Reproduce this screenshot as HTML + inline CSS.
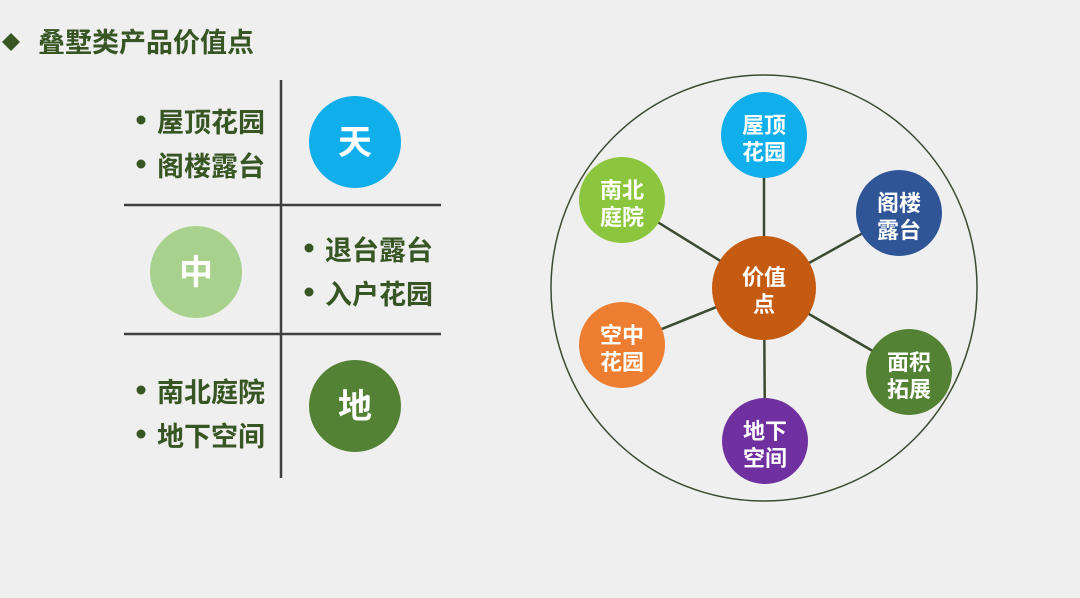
<!DOCTYPE html>
<html><head><meta charset="utf-8"><style>
body{margin:0;width:1080px;height:598px;background:#efefef;overflow:hidden;font-family:"Liberation Sans","Noto Sans CJK SC",sans-serif;}
svg{position:absolute;left:0;top:0}
</style></head><body>
<svg width="1080" height="598" viewBox="0 0 1080 598" font-family="Liberation Sans, Noto Sans CJK SC, sans-serif" font-weight="bold">
<polygon points="11,33 20,42 11,51 2,42" fill="#375623"/>
<text x="38" y="52" font-size="27" fill="#375623">叠墅类产品价值点</text>
<g stroke="#404040" stroke-width="2.5">
<line x1="281" y1="80" x2="281" y2="478"/>
<line x1="124" y1="205" x2="441" y2="205"/>
<line x1="124" y1="334" x2="441" y2="334"/>
</g>
<circle cx="355" cy="142" r="46" fill="#10aeea"/>
<circle cx="196" cy="272" r="46" fill="#a9d18e"/>
<circle cx="355" cy="406" r="46" fill="#548235"/>
<g fill="#fff" font-size="34" text-anchor="middle">
<text x="355" y="154">天</text><text x="196" y="284">中</text><text x="355" y="418">地</text>
</g>
<g fill="#375623" font-size="27">
<circle cx="141" cy="120" r="4.5"/><text x="157" y="132">屋顶花园</text>
<circle cx="141" cy="164" r="4.5"/><text x="157" y="176">阁楼露台</text>
<circle cx="309" cy="248" r="4.5"/><text x="325" y="260">退台露台</text>
<circle cx="309" cy="292" r="4.5"/><text x="325" y="304">入户花园</text>
<circle cx="141" cy="390" r="4.5"/><text x="157" y="402">南北庭院</text>
<circle cx="141" cy="434" r="4.5"/><text x="157" y="446">地下空间</text>
</g>
<circle cx="764" cy="288" r="213" fill="none" stroke="#3b4a30" stroke-width="1.5"/>
<g stroke="#3b4a30" stroke-width="2.5">
<line x1="764" y1="288" x2="764" y2="135"/>
<line x1="764" y1="288" x2="899" y2="213"/>
<line x1="764" y1="288" x2="622" y2="200"/>
<line x1="764" y1="288" x2="622" y2="345"/>
<line x1="764" y1="288" x2="765" y2="441"/>
<line x1="764" y1="288" x2="909" y2="372"/>
</g>
<circle cx="764" cy="288" r="52" fill="#c55a11"/>
<circle cx="764" cy="135" r="43" fill="#10aeea"/>
<circle cx="899" cy="213" r="43" fill="#2f5597"/>
<circle cx="622" cy="200" r="43" fill="#8cc63f"/>
<circle cx="622" cy="345" r="43" fill="#ed7d31"/>
<circle cx="765" cy="441" r="43" fill="#7030a0"/>
<circle cx="909" cy="372" r="43" fill="#548235"/>
<g fill="#fff" font-size="22" text-anchor="middle">
<text x="764" y="285">价值</text><text x="764" y="312">点</text>
<text x="764" y="133">屋顶</text><text x="764" y="160">花园</text>
<text x="899" y="211">阁楼</text><text x="899" y="238">露台</text>
<text x="622" y="198">南北</text><text x="622" y="225">庭院</text>
<text x="622" y="343">空中</text><text x="622" y="370">花园</text>
<text x="765" y="439">地下</text><text x="765" y="466">空间</text>
<text x="909" y="370">面积</text><text x="909" y="397">拓展</text>
</g>
</svg>
</body></html>
